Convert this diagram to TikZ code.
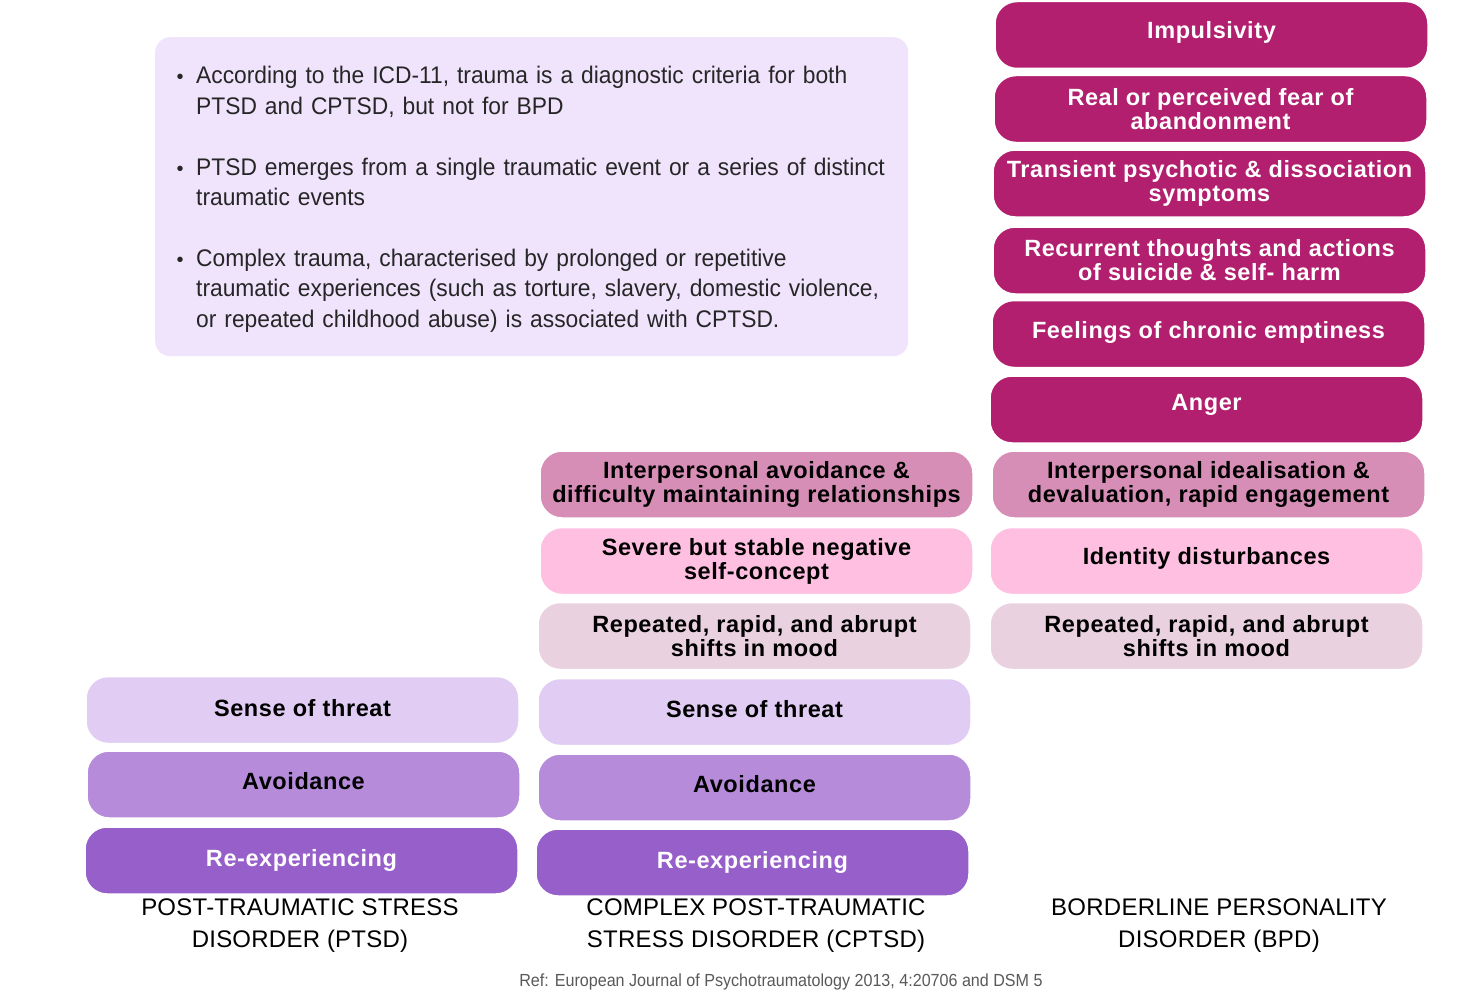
\documentclass[tikz,border=0pt]{standalone}
\usepackage{fontspec}
\setmainfont{Liberation Sans}
\newfontfamily\narrowfont[FakeStretch=0.95]{Liberation Sans}
\newfontfamily\reffont[FakeStretch=0.92]{Liberation Sans}
\newfontfamily\boxfont[LetterSpace=2.5]{Liberation Sans Bold}
\newfontfamily\titlefont[LetterSpace=1]{Liberation Sans}
\newcommand{\up}[2]{\raisebox{#1}[\height][\depth]{#2}}

\definecolor{bpdmag}{HTML}{B21F6E}
\definecolor{dustypink}{HTML}{D68EB6}
\definecolor{lightpink}{HTML}{FEBFE0}
\definecolor{palemauve}{HTML}{E9D1DF}
\definecolor{lightlav}{HTML}{E1CDF3}
\definecolor{midlav}{HTML}{B58BDA}
\definecolor{darklav}{HTML}{965FC9}
\definecolor{infobg}{HTML}{F0E3FC}

\tikzset{
    symbox/.style={draw=white, line width=1.5pt, rounded corners=22pt,
        minimum width=433pt, minimum height=67pt, inner sep=0pt,
        align=center, font=\boxfont\fontsize{23.5}{24}\selectfont},
    darkbox/.style={symbox, fill=#1, text=white},
    lightbox/.style={symbox, fill=#1, text=black},
    infotext/.style={anchor=base west, align=left, text width=710pt, inner sep=0pt,
        text=black!85, font=\narrowfont\fontsize{24}{30.5}\selectfont},
    infodot/.style={anchor=base, inner sep=0pt, text=black!85,
        font=\fontsize{20}{24}\selectfont},
    disorder/.style={align=center, inner sep=0pt,
        font=\titlefont\fontsize{24}{32}\selectfont}
}

\begin{document}
\begin{tikzpicture}[x=1pt, y=-1pt]
    \useasboundingbox (0,0) rectangle (1466,1006);

    % notes box
    \node[fill=infobg, rounded corners=15pt, minimum width=753pt, minimum height=319pt,
        anchor=north west, inner sep=0pt] (info) at (155,37) {};
    \node[infodot] (dot1) at (180,84) {•};
    \node[infotext] (note1) at (196,84) {According to the ICD-11, trauma is a diagnostic criteria for both\\PTSD and CPTSD, but not for BPD};
    \node[infodot] (dot2) at (180,175) {•};
    \node[infotext] (note2) at (196,175) {PTSD emerges from a single traumatic event or a series of distinct\\traumatic events};
    \node[infodot] (dot3) at (180,266) {•};
    \node[infotext] (note3) at (196,266) {Complex trauma, characterised by prolonged or repetitive\\traumatic experiences (such as torture, slavery, domestic violence,\\or repeated childhood abuse) is associated with CPTSD.};

    % BPD column
    \node[darkbox=bpdmag] (impuls) at (1211.5,35) {\up{3pt}{Impulsivity}};
    \node[darkbox=bpdmag] (fear) at (1210.5,109) {Real or perceived fear of\\abandonment};
    \node[darkbox=bpdmag] (psych) at (1209.5,183.5) {Transient psychotic \& dissociation\\symptoms};
    \node[darkbox=bpdmag] (suicide) at (1209.5,260.5) {Recurrent thoughts and actions\\of suicide \& self- harm};
    \node[darkbox=bpdmag] (empty) at (1208.5,334) {\up{2pt}{Feelings of chronic emptiness}};
    \node[darkbox=bpdmag] (anger) at (1206.5,409.5) {\up{5pt}{Anger}};
    \node[lightbox=dustypink] (ideal) at (1208.5,484.5) {Interpersonal idealisation \&\\devaluation, rapid engagement};
    \node[lightbox=lightpink] (ident) at (1206.5,561) {\up{3pt}{Identity disturbances}};
    \node[lightbox=palemauve] (moodb) at (1206.5,636) {Repeated, rapid, and abrupt\\shifts in mood};

    % CPTSD column
    \node[lightbox=dustypink] (avoidrel) at (756.5,484.5) {Interpersonal avoidance \&\\difficulty maintaining relationships};
    \node[lightbox=lightpink] (selfc) at (756.5,561) {Severe but stable negative\\self-concept};
    \node[lightbox=palemauve] (moodc) at (754.5,636) {Repeated, rapid, and abrupt\\shifts in mood};
    \node[lightbox=lightlav] (threatc) at (754.5,712) {\up{3pt}{Sense of threat}};
    \node[lightbox=midlav] (avoidc) at (754.5,787.5) {\up{3pt}{Avoidance}};
    \node[darkbox=darklav] (reexpc) at (752.5,862.5) {Re-experiencing};

    % PTSD column
    \node[lightbox=lightlav] (threatp) at (302.5,710) {\up{2pt}{Sense of threat}};
    \node[lightbox=midlav] (avoidp) at (303.5,784.5) {\up{3pt}{Avoidance}};
    \node[darkbox=darklav] (reexpp) at (301.5,860.5) {Re-experiencing};

    % column titles
    \node[disorder] (ptsd) at (300,926) {POST-TRAUMATIC STRESS\\DISORDER (PTSD)};
    \node[disorder] (cptsd) at (756,926) {COMPLEX POST-TRAUMATIC\\STRESS DISORDER (CPTSD)};
    \node[disorder] (bpd) at (1219,926) {BORDERLINE PERSONALITY\\DISORDER (BPD)};

    \node[text=black!65, inner sep=0pt, font=\reffont\fontsize{17.5}{18}\selectfont] (ref) at (781,982)
        {Ref: European Journal of Psychotraumatology 2013, 4:20706 and DSM 5};
\end{tikzpicture}
\end{document}
